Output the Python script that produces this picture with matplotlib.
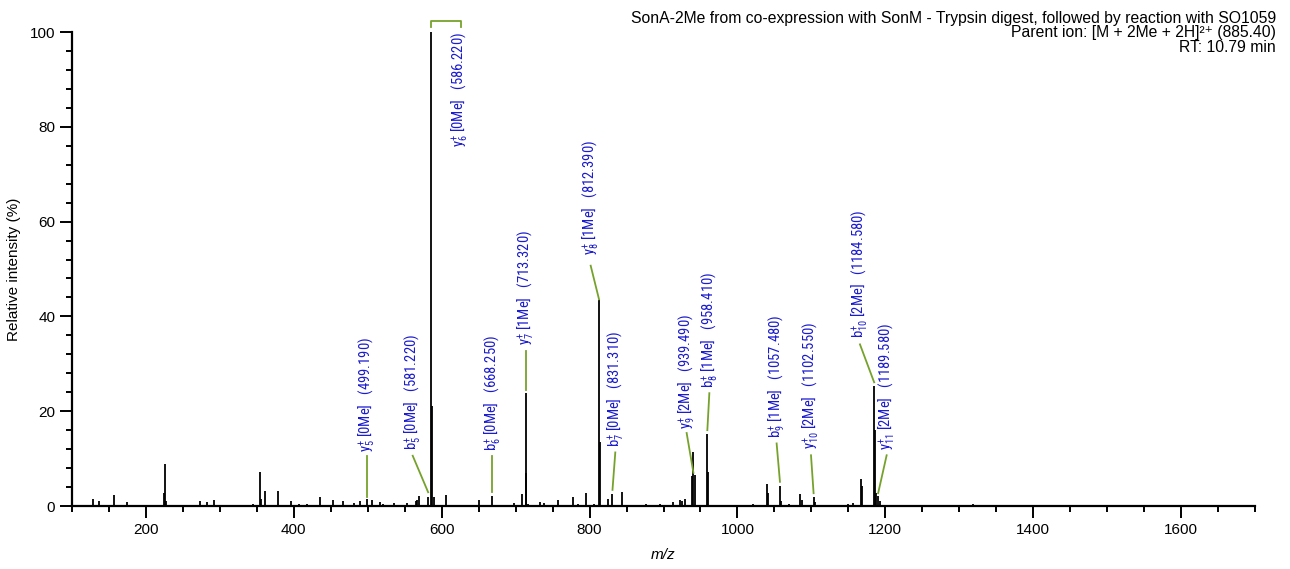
import matplotlib
matplotlib.use("Agg")
import matplotlib.pyplot as plt
from matplotlib.ticker import MultipleLocator
from matplotlib import font_manager

# ---------------- data ----------------
peak_mz = [128, 136.6, 157, 174, 225.0, 226.1, 227.2, 253, 272.5, 282.5, 291.5, 323, 345,
           354, 355.2, 360.5, 378, 396, 407.6, 418, 435, 453, 467, 481, 490, 499.2, 506,
           517, 521, 535, 553.5, 565, 567, 569.5, 581.7, 586.2, 587.2, 589.6, 605.4, 650,
           668.7, 698, 708.4, 713.8, 714.7, 716.5, 733, 738, 756.7, 777, 785, 795.5, 806,
           812.8, 814.0, 825, 831.0, 843.5, 876, 885, 895, 912.5, 922.4, 925, 929.6,
           938.7, 940.5, 942, 959.3, 960.5, 982.5, 1000, 1010, 1021, 1040.4, 1042,
           1057.5, 1059, 1069.5, 1085, 1087, 1103, 1104.4, 1149.6, 1156.4, 1166.8,
           1168.6, 1184.9, 1185.8, 1187, 1190.3, 1192.5, 1212.8, 1304, 1318]
peak_int = [1.4, 1.0, 2.3, 0.8, 2.8, 8.8, 1.0, 0.3, 1.1, 0.8, 1.2, 0.3, 0.5,
            7.2, 1.5, 3.2, 3.1, 1.0, 0.5, 0.5, 2.0, 1.2, 1.1, 0.6, 1.0, 1.5, 1.2,
            0.8, 0.5, 0.6, 0.6, 1.0, 1.2, 2.1, 1.9, 100.0, 21.0, 2.0, 2.3, 1.3,
            2.1, 0.6, 2.5, 23.9, 7.0, 0.5, 0.9, 0.6, 1.3, 2.0, 0.4, 2.7, 0.5,
            43.4, 13.6, 1.4, 2.5, 3.0, 0.5, 0.3, 0.5, 0.9, 1.3, 1.0, 1.5,
            6.3, 11.3, 6.5, 15.2, 7.2, 0.3, 0.3, 0.3, 0.4, 4.6, 2.7,
            4.3, 1.0, 0.4, 2.5, 1.2, 2.0, 0.8, 0.4, 0.6, 5.6,
            4.3, 25.4, 16.0, 2.7, 2.1, 1.0, 0.2, 0.3, 0.5]

ion_names = ["y_5", "b_5", "y_6", "b_6", "y_7", "y_8", "b_7", "y_9", "b_8",
             "b_9", "y_{10}", "b_{10}", "y_{11}"]
ion_me = ["[0Me]", "[0Me]", "[0Me]", "[0Me]", "[1Me]", "[1Me]", "[0Me]", "[2Me]",
          "[1Me]", "[1Me]", "[2Me]", "[2Me]", "[2Me]"]
ion_mz_text = ["499.190", "581.220", "586.220", "668.250", "713.320", "812.390",
               "831.310", "939.490", "958.410", "1057.480", "1102.550", "1184.580",
               "1189.580"]
ion_peak_mz = [499.2, 581.7, 586.2, 668.7, 713.8, 812.8, 831.0, 940.5, 959.3,
               1057.5, 1103, 1184.9, 1190.3]
ion_peak_int = [1.5, 1.9, 100.0, 2.1, 23.9, 43.4, 2.5, 11.3, 15.2, 4.3, 2.0, 25.4, 2.1]

title_lines = ["SonA-2Me from co-expression with SonM - Trypsin digest, followed by reaction with SO1059",
               "Parent ion: [M + 2Me + 2H]\u00b2\u207a (885.40)",
               "RT: 10.79 min"]

# ---------------- layout (label placement, in data units) ----------------
label_x = [499.2, 560.8, 624.8, 668.7, 713.8, 801.5, 834.8, 931.3, 962.0,
           1053.0, 1099.5, 1165.7, 1201.8]
label_y = [11.4, 11.8, 100.0, 11.6, 34.0, 53.0, 12.5, 16.2, 24.8, 14.3, 12.0, 35.4, 11.8]
line_top = [10.6, 10.6, None, 10.5, 32.7, 50.7, 11.3, 15.4, 23.8, 13.2, 10.7, 34.1, 10.7]
line_bot = [1.9, 2.9, None, 2.9, 24.4, 43.6, 3.4, 7.0, 16.0, 5.1, 2.7, 26.1, 2.7]

green = "#76a22c"
blue = "#1a1ad0"

names = {f.name for f in font_manager.fontManager.ttflist}
base_font = "Liberation Sans" if "Liberation Sans" in names else "DejaVu Sans"
narrow_fonts = [f for f in ["Liberation Sans Narrow", "Roboto Condensed", "Archivo Narrow",
                            "PT Sans Narrow"] if f in names] + [base_font, "DejaVu Sans"]

plt.rcParams["font.family"] = [base_font, "DejaVu Sans"]
plt.rcParams["mathtext.fontset"] = "custom"
plt.rcParams["mathtext.rm"] = base_font
plt.rcParams["mathtext.it"] = base_font + ":italic"

fig = plt.figure(figsize=(12.9, 5.69), dpi=100)
ax = fig.add_axes([72 / 1290, 1 - 506 / 569, (1255 - 72) / 1290, (506 - 32) / 569])

ax.vlines(peak_mz, 0, peak_int, color="black", linewidth=1.3)

ax.set_xlim(100, 1700)
ax.set_ylim(0, 100)
for s in ["top", "right"]:
    ax.spines[s].set_visible(False)
for s in ["left", "bottom"]:
    ax.spines[s].set_linewidth(1.6)

ax.xaxis.set_major_locator(MultipleLocator(200))
ax.xaxis.set_minor_locator(MultipleLocator(50))
ax.yaxis.set_major_locator(MultipleLocator(20))
ax.yaxis.set_minor_locator(MultipleLocator(4))
ax.tick_params(which="major", length=8.5, width=1.4, labelsize=11, direction="out")
ax.tick_params(which="minor", length=4.2, width=1.4, direction="out")

ax.set_ylabel("Relative intensity (%)", fontsize=11, labelpad=6)
ax.set_xlabel("m/z", fontsize=11, fontstyle="italic", labelpad=8)

for i in range(len(ion_names)):
    txt = r"$\mathregular{%s^{+}}$ %s   (%s)" % (ion_names[i], ion_me[i], ion_mz_text[i])
    va = "top" if line_top[i] is None else "bottom"
    ax.text(label_x[i], label_y[i], txt, rotation=90, ha="center", va=va,
            color=blue, fontsize=10.5, family=narrow_fonts, clip_on=False)
    if line_top[i] is not None:
        ax.plot([ion_peak_mz[i], label_x[i]], [line_bot[i], line_top[i]],
                color=green, linewidth=1.3, clip_on=False)
    else:
        ax.plot([ion_peak_mz[i], ion_peak_mz[i], label_x[i] + 1.5, label_x[i] + 1.5],
                [101.0, 102.3, 102.3, 101.0], color=green, linewidth=1.3, clip_on=False)

for k, line in enumerate(title_lines):
    fig.text(1276 / 1290, 1 - (18 + 15 * k) / 569, line, ha="right", va="center",
             fontsize=11.3, family=[base_font, "DejaVu Sans"])

fig.savefig("out.png", dpi=100)
